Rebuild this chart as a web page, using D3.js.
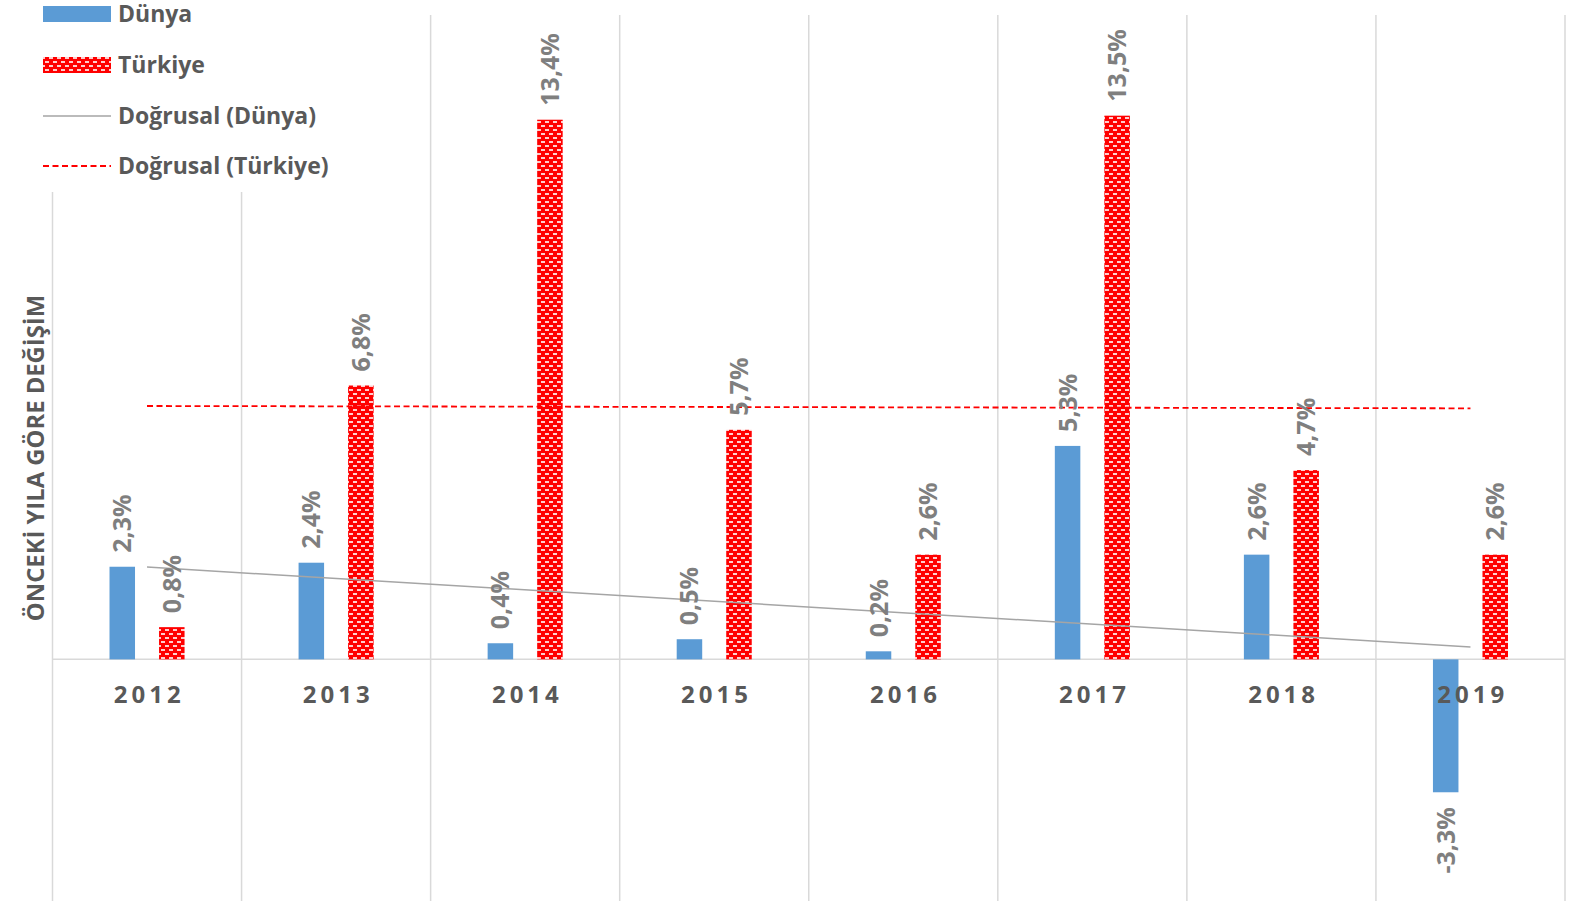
<!DOCTYPE html>
<html>
<head>
<meta charset="utf-8">
<script src="https://cdn.jsdelivr.net/npm/d3@7"></script>
<style>
  html, body { margin: 0; padding: 0; background: #fff; }
  svg { display: block; }
</style>
</head>
<body>
<svg id="chart" width="1584" height="901"></svg>
<script>
const years = ["2012", "2013", "2014", "2015", "2016", "2017", "2018", "2019"];
const dunya = [2.3, 2.4, 0.4, 0.5, 0.2, 5.3, 2.6, -3.3];
const turkiye = [0.8, 6.8, 13.4, 5.7, 2.6, 13.5, 4.7, 2.6];
const seriesNames = ["Dünya", "Türkiye"];
const legendLabels = ["Dünya", "Türkiye", "Doğrusal (Dünya)", "Doğrusal (Türkiye)"];
const yTitle = "ÖNCEKİ YILA GÖRE DEĞİŞİM";
const yDomain = [-6, 16];

const svg = d3.select("#chart");
const plot = { left: 52.5, right: 1565, top: 15, bottom: 901 };
const FONT = "'Open Sans', 'Noto Sans', sans-serif";

const defs = svg.append("defs");
const pat = defs.append("pattern")
  .attr("id", "brick").attr("patternUnits", "userSpaceOnUse")
  .attr("width", 8).attr("height", 8);
pat.append("rect").attr("width", 8).attr("height", 8).attr("fill", "#ff0000");
[[1, 1.2], [5, 5.2], [-3, 5.2]].forEach(([x, y]) =>
  pat.append("rect").attr("x", x).attr("y", y).attr("width", 4).attr("height", 1.6).attr("fill", "#fff"));

const x = d3.scaleBand().domain(years).range([plot.left, plot.right]).padding(0);
const bw = x.bandwidth();
const xs = d3.scaleBand().domain(seriesNames).range([0, bw]).paddingInner(0.485).paddingOuter(1.151);
const y = d3.scaleLinear().domain(yDomain).range([plot.bottom, plot.top]);

// vertical gridlines at category boundaries
const bounds = years.map(d => x(d)).concat([plot.right]);
svg.append("g").selectAll("line").data(bounds).join("line")
  .attr("x1", d => d).attr("x2", d => d)
  .attr("y1", plot.top).attr("y2", plot.bottom)
  .attr("stroke", "#d9d9d9").attr("stroke-width", 1.5);

// zero line
svg.append("line")
  .attr("x1", plot.left).attr("x2", plot.right)
  .attr("y1", y(0)).attr("y2", y(0))
  .attr("stroke", "#d9d9d9").attr("stroke-width", 1.5);

const data = years.map((yr, i) => ({ yr, dunya: dunya[i], turkiye: turkiye[i] }));
const fills = { "Dünya": "#5b9bd5", "Türkiye": "url(#brick)" };
const keys = { "Dünya": "dunya", "Türkiye": "turkiye" };

const barsG = svg.append("g");
seriesNames.forEach(s => {
  barsG.append("g").selectAll("rect").data(data).join("rect")
    .attr("x", d => x(d.yr) + xs(s))
    .attr("width", xs.bandwidth())
    .attr("y", d => y(Math.max(0, d[keys[s]])))
    .attr("height", d => Math.abs(y(d[keys[s]]) - y(0)))
    .attr("fill", fills[s]);
});

// linear trendlines (least squares, as Excel "Doğrusal")
function trend(vals) {
  const n = vals.length;
  const xsv = vals.map((_, i) => i + 1);
  const mx = d3.mean(xsv), my = d3.mean(vals);
  const sxy = d3.sum(vals.map((v, i) => (xsv[i] - mx) * (v - my)));
  const sxx = d3.sum(xsv.map(v => (v - mx) ** 2));
  const b = sxy / sxx, a = my - b * mx;
  return [[years[0], a + b * 1], [years[n - 1], a + b * n]];
}
const line = d3.line().x(d => x(d[0]) + bw / 2).y(d => y(d[1]));
svg.append("path").attr("d", line(trend(dunya)))
  .attr("fill", "none").attr("stroke", "#a5a5a5").attr("stroke-width", 1.5);
svg.append("path").attr("d", line(trend(turkiye)))
  .attr("fill", "none").attr("stroke", "#ff0000").attr("stroke-width", 1.8)
  .attr("stroke-dasharray", "6,3.5");

// data labels (rotated)
const fmt = v => d3.format(".1f")(v).replace(".", ",").replace("\u2212", "-") + "%";
seriesNames.forEach(s => {
  svg.append("g").selectAll("text").data(data).join("text")
    .attr("transform", d => {
      const v = d[keys[s]];
      const cx = x(d.yr) + xs(s) + xs.bandwidth() / 2;
      const cy = v >= 0 ? y(v) - 14 : y(v) + 15;
      return `translate(${cx},${cy}) rotate(-90)`;
    })
    .attr("text-anchor", d => d[keys[s]] >= 0 ? "start" : "end")
    .attr("dy", "0.36em")
    .attr("font-family", FONT).attr("font-weight", 700).attr("font-size", 25)
    .attr("fill", "#7f7f7f")
    .text(d => fmt(d[keys[s]]));
});

// category labels
svg.append("g").selectAll("text").data(years).join("text")
  .attr("x", d => x(d) + bw / 2 + 2.2)
  .attr("y", y(0) + 44)
  .attr("text-anchor", "middle")
  .attr("font-family", FONT).attr("font-weight", 700).attr("font-size", 24)
  .attr("letter-spacing", "4px")
  .attr("fill", "#595959")
  .text(d => d);

// y axis title
svg.append("text")
  .attr("transform", `translate(35,${458}) rotate(-90)`)
  .attr("text-anchor", "middle").attr("dy", "0.36em")
  .attr("font-family", FONT).attr("font-weight", 700).attr("font-size", 23.8)
  .attr("fill", "#595959")
  .text(yTitle);

// legend
const lg = svg.append("g");
lg.append("rect").attr("x", 0).attr("y", 0).attr("width", 340).attr("height", 192).attr("fill", "#fff");
const ly = [14, 65, 116, 166];
const symX0 = 43, symX1 = 111;
lg.append("rect").attr("x", symX0).attr("y", ly[0] - 8).attr("width", symX1 - symX0).attr("height", 16).attr("fill", "#5b9bd5");
lg.append("rect").attr("x", symX0).attr("y", ly[1] - 8).attr("width", symX1 - symX0).attr("height", 16).attr("fill", "url(#brick)");
lg.append("line").attr("x1", symX0).attr("x2", symX1).attr("y1", ly[2]).attr("y2", ly[2])
  .attr("stroke", "#a5a5a5").attr("stroke-width", 1.5);
lg.append("line").attr("x1", symX0).attr("x2", symX1).attr("y1", ly[3]).attr("y2", ly[3])
  .attr("stroke", "#ff0000").attr("stroke-width", 1.8).attr("stroke-dasharray", "6,3.5");
lg.selectAll("text.l").data(legendLabels).join("text")
  .attr("class", "l")
  .attr("x", 118).attr("y", (d, i) => ly[i]).attr("dy", "0.36em")
  .attr("font-family", FONT).attr("font-weight", 700).attr("font-size", 23)
  .attr("fill", "#595959")
  .text(d => d);
</script>
</body>
</html>
